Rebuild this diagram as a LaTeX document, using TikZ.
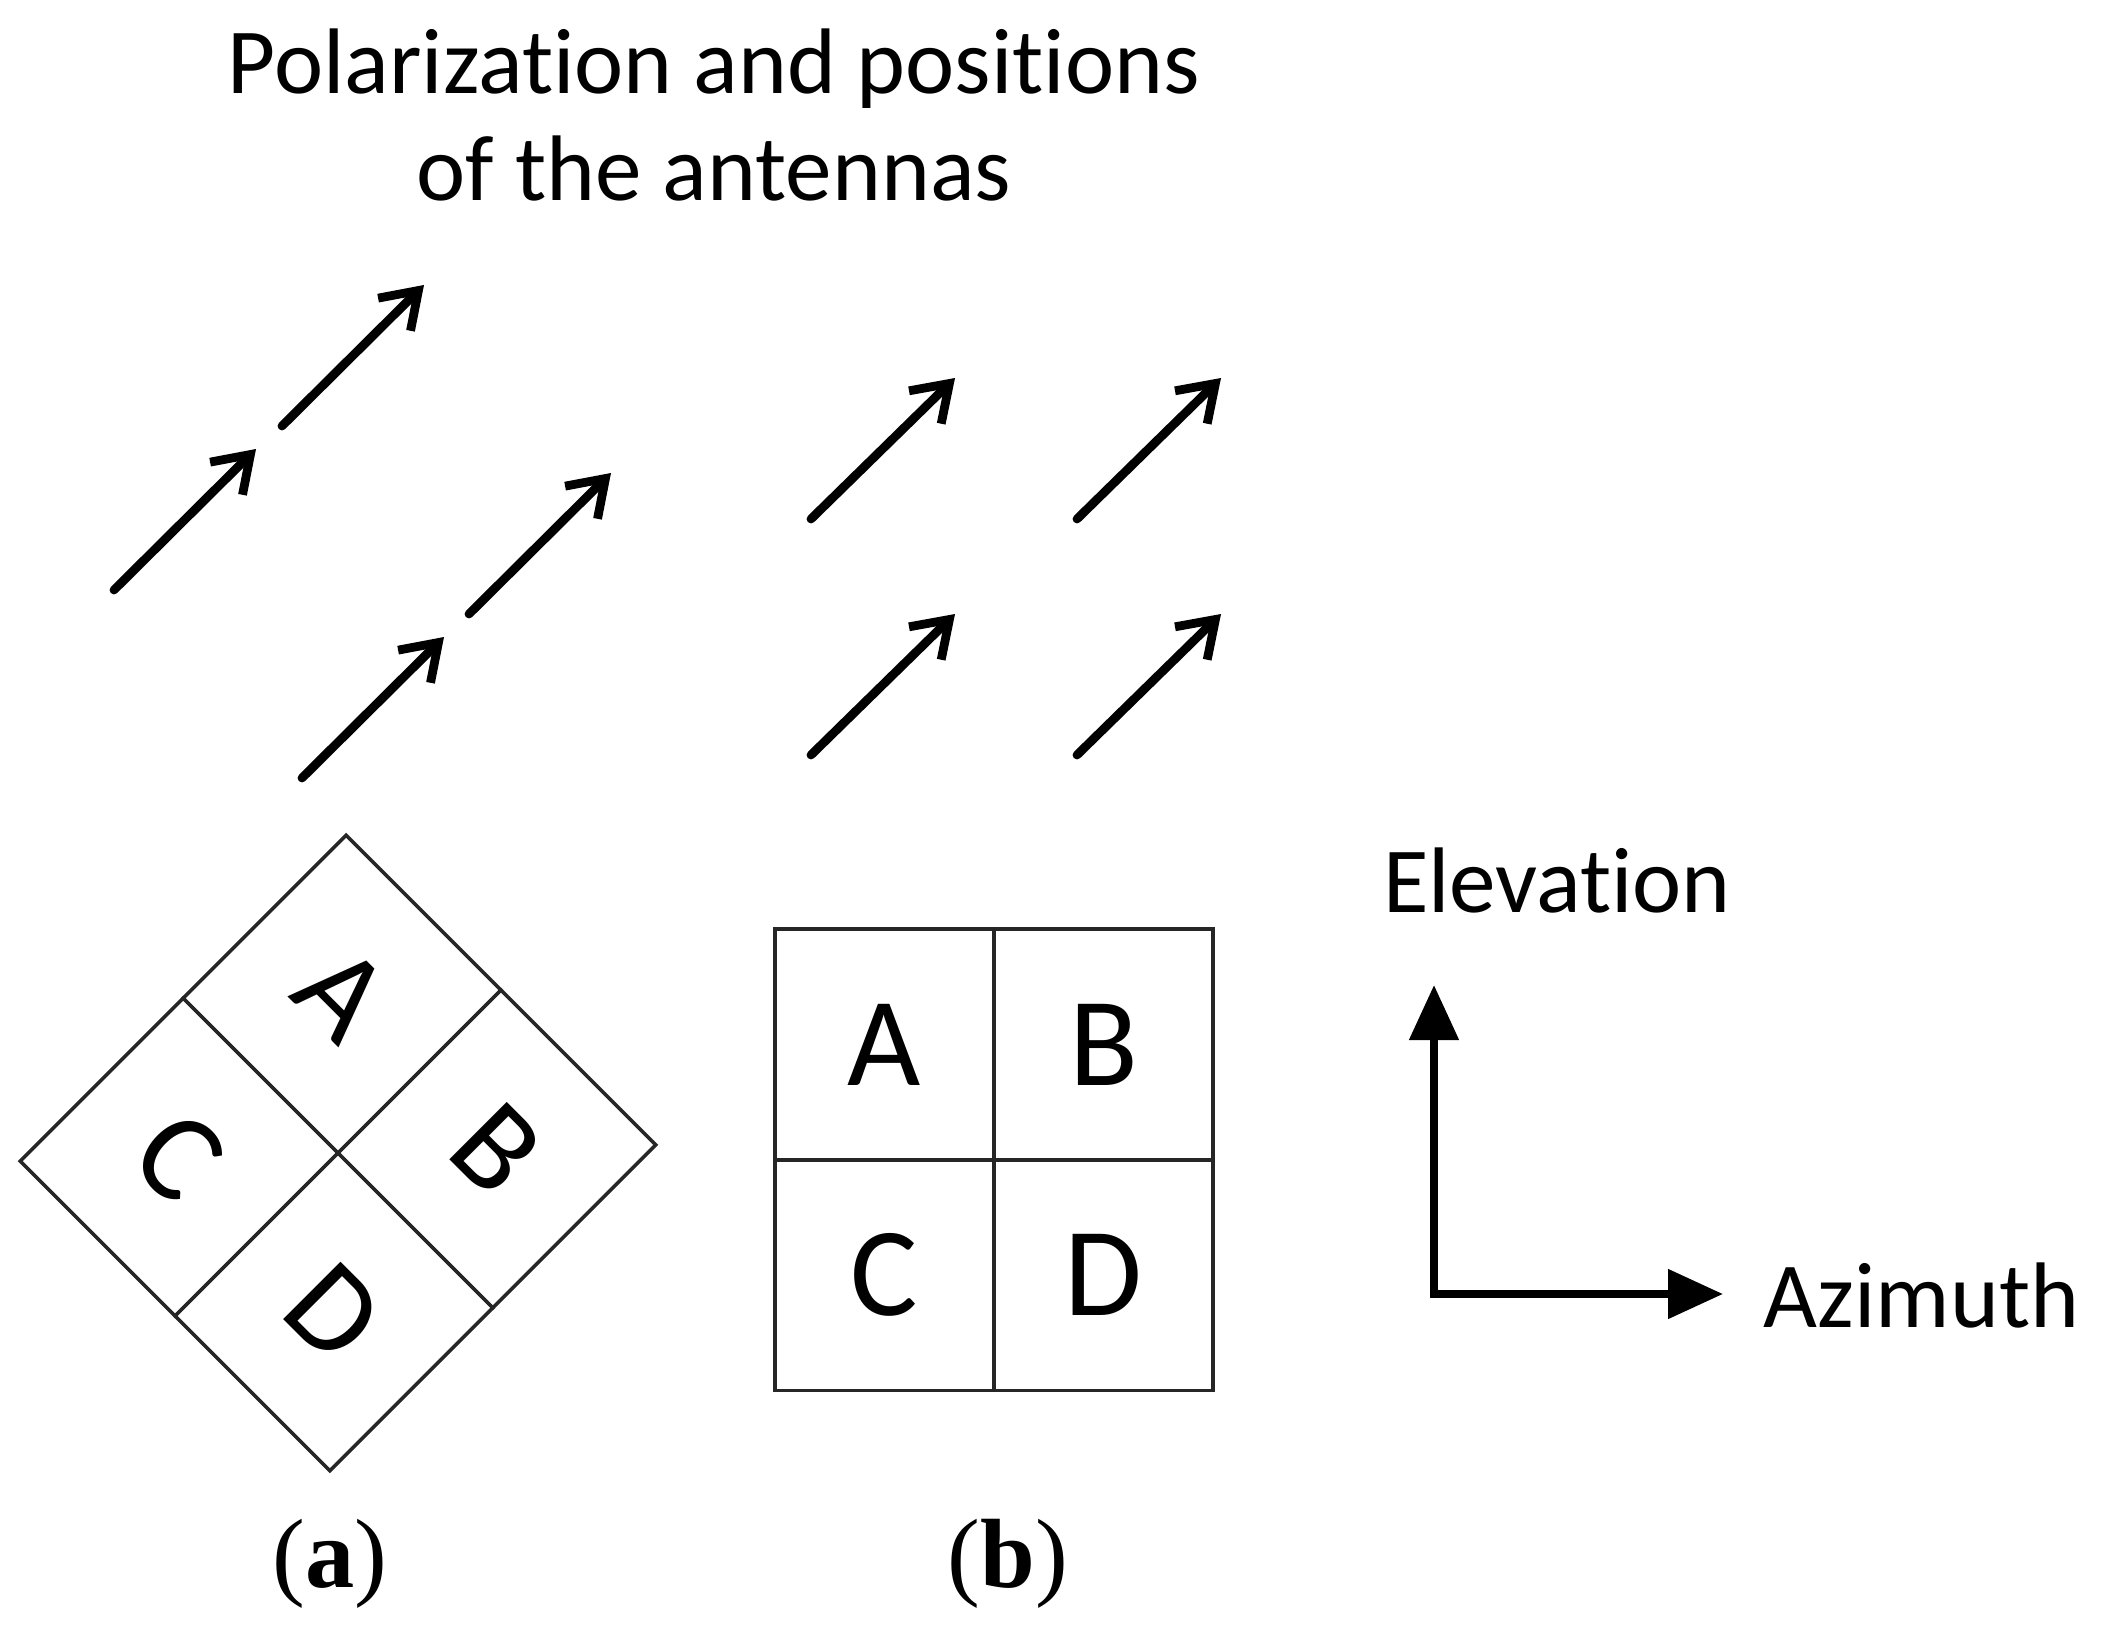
\documentclass[tikz,border=0pt]{standalone}
\usepackage{fontspec}
\setmainfont{Carlito}[Ligatures={NoCommon,NoRare,NoContextual}]
\newfontfamily\serifcap{Liberation Serif}
\usetikzlibrary{arrows.meta}

\tikzset{
    pol/.style={line width=2.5pt, line cap=round, -{Straight Barb[length=3.4mm,width=4.6mm]}},
    axis/.style={line width=2.3pt, {Triangle[length=5.5mm,width=4.8mm]}-{Triangle[length=5.5mm,width=4.8mm]}},
    cell/.style={draw=black!85, line width=1pt, minimum width=2.19cm, minimum height=2.305cm,
        inner sep=0pt, outer sep=0pt, font=\fontsize{36}{40}\selectfont},
    lbl/.style={font=\fontsize{26.5}{31}\selectfont},
    sublbl/.style={font=\serifcap\fontsize{28}{32}\selectfont}
}

\begin{document}
\begin{tikzpicture}
    \useasboundingbox (0,0) rectangle (21.02,16.30);

    % Title (kern keeps t and i apart)
    \node[lbl, anchor=base] (title) at (7.14,15.36) {Polarizat\kern0pt ion and posit\kern0pt ions};
    \node[lbl, anchor=base] (title2) at (7.14,14.29) {of the antennas};

    % Polarization for (a): two tilted pairs
    \foreach \x/\y in {1.14/10.40, 2.82/12.04, 3.02/8.52, 4.69/10.16}
        \draw[pol] (\x,\y) -- ++(1.42,1.41);

    % Polarization for (b): 2x2 grid
    \foreach \x in {8.11,10.77}
        \foreach \y in {8.75,11.11}
            \draw[pol] (\x,\y) -- ++(1.44,1.41);

    % Antenna positions (a), turned by 45 degrees
    \begin{scope}[shift={(3.38,4.77)}, rotate=-45, transform shape]
        \node[cell] (aA) at (-1.095,1.1525) {A};
        \node[cell] (aB) at (1.095,1.1525) {B};
        \node[cell] (aC) at (-1.095,-1.1525) {C};
        \node[cell] (aD) at (1.095,-1.1525) {D};
    \end{scope}

    % Antenna positions (b)
    \node[cell] (bA) at (8.845,5.855) {A};
    \node[cell] (bB) at (11.035,5.855) {B};
    \node[cell] (bC) at (8.845,3.55) {C};
    \node[cell] (bD) at (11.035,3.55) {D};

    % Axes
    \node[lbl, anchor=base] (elev) at (15.57,7.18) {Elevat\kern0pt ion};
    \node[lbl, anchor=base west, inner sep=0pt] (azim) at (17.63,3.03) {Azimuth};
    \coordinate (origin) at (14.34,3.36);
    \coordinate (elevtip) at (14.34,6.45);
    \coordinate (azimtip) at (17.23,3.36);
    \draw[axis] (elevtip) -- (origin) -- (azimtip);

    % Sub-captions
    \node[sublbl, anchor=base] (capa) at (3.30,0.43) {(\textbf{a})};
    \node[sublbl, anchor=base] (capb) at (10.08,0.43) {(\textbf{b})};
\end{tikzpicture}
\end{document}
